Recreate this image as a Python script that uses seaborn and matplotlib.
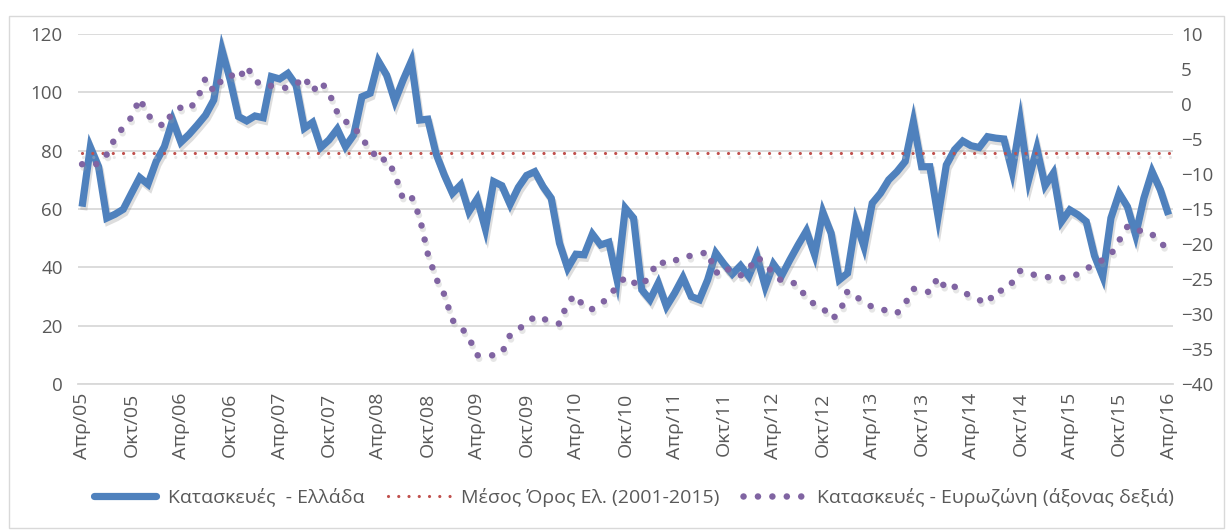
import numpy as np
import pandas as pd
import matplotlib
matplotlib.use("Agg")
import matplotlib.pyplot as plt
import matplotlib.patheffects as pe
from matplotlib.lines import Line2D
from matplotlib.patches import Rectangle
import seaborn as sns

# ---------------- data ----------------
tick_labels = ["Απρ/05", "Οκτ/05", "Απρ/06", "Οκτ/06", "Απρ/07", "Οκτ/07",
               "Απρ/08", "Οκτ/08", "Απρ/09", "Οκτ/09", "Απρ/10", "Οκτ/10",
               "Απρ/11", "Οκτ/11", "Απρ/12", "Οκτ/12", "Απρ/13", "Οκτ/13",
               "Απρ/14", "Οκτ/14", "Απρ/15", "Οκτ/15", "Απρ/16"]

# Construction confidence - Greece (left axis), monthly Apr/05 .. Apr/16
greece = [60.8, 81.2, 74.5, 56.9, 58.2, 59.9, 65.4, 70.8, 68.5, 76.3,
          81.4, 90.5, 82.9, 85.6, 88.8, 92.2, 97.4, 114.5, 104.2, 91.7,
          90.2, 91.9, 91.3, 105.4, 104.6, 106.5, 102.5, 87.7, 89.7, 81.1,
          83.7, 87.4, 81.4, 85.4, 98.5, 99.7, 110.7, 105.9, 97.0, 104.2,
          110.7, 90.5, 90.8, 79.0, 71.7, 65.4, 68.3, 59.1, 63.5, 53.2,
          69.4, 68.0, 61.6, 67.4, 71.5, 72.8, 67.7, 63.7, 48.3, 39.7,
          44.5, 44.3, 51.4, 47.7, 48.6, 35.7, 60.3, 56.9, 32.3, 28.9,
          34.6, 26.6, 31.2, 36.5, 30.0, 28.9, 35.7, 44.9, 41.1, 37.7,
          40.6, 36.9, 43.7, 33.4, 41.1, 37.2, 42.6, 47.7, 52.5, 44.3,
          58.9, 51.7, 35.7, 38.0, 55.7, 47.1, 62.0, 65.4, 70.0, 72.8,
          76.3, 90.0, 74.5, 74.5, 57.4, 75.1, 80.3, 83.3, 81.7, 81.1,
          84.8, 84.3, 84.0, 72.8, 90.0, 70.0, 80.8, 68.0, 72.3, 55.7,
          59.7, 58.0, 55.7, 44.0, 36.9, 56.9, 65.4, 60.8, 51.1, 63.7,
          72.8, 66.6, 58.0]

# Construction confidence - Eurozone (right axis)
eurozone = [-8.6, -8.8, -8.5, -7.2, -4.9, -3.3, -1.9, 0.8, -1.6, -2.6,
            -3.2, -1.1, -0.5, -0.8, 0.7, 3.7, 1.8, 3.5, 4.2, 3.5,
            5.4, 3.4, 2.5, 2.6, 2.35, 2.3, 2.8, 3.9, 1.8, 3.2,
            1.6, -1.2, -2.5, -3.1, -5.1, -6.2, -8.2, -7.8, -10.0, -13.6,
            -13.2, -16.1, -21.4, -24.9, -27.2, -30.9, -31.8, -33.4, -35.9, -35.9,
            -35.9, -35.6, -33.0, -32.1, -31.5, -30.3, -30.7, -31.0, -31.4, -28.3,
            -27.3, -29.1, -29.3, -28.7, -27.4, -26.1, -24.7, -25.5, -26.0, -24.4,
            -22.4, -22.9, -22.4, -21.75, -21.7, -21.5, -21.1, -24.2, -23.2, -24.1,
            -24.5, -23.6, -21.8, -22.9, -24.2, -25.3, -25.4, -25.8, -27.8, -28.6,
            -29.1, -30.7, -30.0, -26.7, -27.5, -28.3, -29.0, -29.2, -29.7, -29.9,
            -28.5, -26.4, -26.6, -26.9, -24.7, -26.5, -26.1, -26.9, -27.4, -28.0,
            -28.5, -26.6, -26.7, -25.5, -23.8, -24.2, -24.5, -24.7, -24.8, -24.85,
            -24.7, -24.3, -23.6, -22.8, -22.3, -21.5, -19.5, -17.5, -18.2, -18.0,
            -18.6, -19.9, -20.6]

avg_greece = 79.1  # Μέσος Όρος Ελ. (2001-2015)

series_names = ["Κατασκευές  - Ελλάδα",
                "Μέσος Όρος Ελ. (2001-2015)",
                "Κατασκευές - Ευρωζώνη (άξονας δεξιά)"]

# ---------------- style ----------------
BLUE = "#4F81BD"
RED = "#C0504D"
PURPLE = "#8064A2"
TXT = "#595959"
GRID = "#D9D9D9"

sns.set_theme(style="white")
plt.rcParams["font.family"] = ["Open Sans", "DejaVu Sans"]
FS_Y = 13.5
FS_X = 14
FS_L = 14

n = len(greece)
df = pd.DataFrame({
    "idx": np.arange(n),
    "greece": greece,
    "avg": [avg_greece] * n,
    "eurozone": eurozone,
})

fig = plt.figure(figsize=(12.26, 5.30), dpi=100)
fig.add_artist(Rectangle((0.0073, 0.004), 0.991, 0.966, transform=fig.transFigure,
                         fill=False, edgecolor=GRID, lw=1.0))

ax = fig.add_axes([0.0636, 0.2755, 0.8929, 0.6603])
ax2 = ax.twinx()

RED_DASH = (0, (0.01, 3.2))
PUR_DASH = (0, (0.01, 2.2))

sns.lineplot(data=df, x="idx", y="greece", ax=ax, color=BLUE, lw=5.2,
             legend=False, solid_joinstyle="miter", solid_capstyle="butt")
sns.lineplot(data=df, x="idx", y="avg", ax=ax, color=RED, lw=2.3, legend=False)
sns.lineplot(data=df, x="idx", y="eurozone", ax=ax2, color=PURPLE, lw=4.7, legend=False)

l_blue, l_red = ax.get_lines()[0], ax.get_lines()[1]
l_purple = ax2.get_lines()[0]
l_blue.set_path_effects([pe.SimpleLineShadow(offset=(1.2, -2.5), shadow_color="#8F8F8F", alpha=0.3),
                         pe.Normal()])
l_red.set_linestyle(RED_DASH)
l_red.set_dash_capstyle("round")
l_red.set_path_effects([pe.SimpleLineShadow(offset=(0.8, -3.0), shadow_color="#BFBFBF", alpha=0.35),
                        pe.Normal()])
l_purple.set_linestyle(PUR_DASH)
l_purple.set_dash_capstyle("round")
l_purple.set_path_effects([pe.SimpleLineShadow(offset=(1.0, -2.5), shadow_color="#9F9F9F", alpha=0.25),
                           pe.Normal()])

# axes limits / ticks
ax.set_xlim(-0.5, n - 0.5)
ax.set_ylim(0, 120)
ax2.set_ylim(-40, 10)
ax.set_yticks(np.arange(0, 121, 20))
ax2.set_yticks(np.arange(-40, 11, 5))

ax.set_xticks(np.arange(-0.5, n - 1, 6))
ax.set_xticklabels([])
ax.set_xticks(np.arange(0, n, 6), minor=True)
ax.set_xticklabels(tick_labels, minor=True, rotation=90)

ax.tick_params(axis="x", which="major", length=6, width=1.2, color=GRID, direction="out")
ax.tick_params(axis="x", which="minor", length=0, pad=6, labelsize=FS_X, labelcolor=TXT)
ax.tick_params(axis="y", length=0, pad=11, labelsize=FS_Y, labelcolor=TXT)
ax2.tick_params(axis="y", length=0, pad=6, labelsize=FS_Y, labelcolor=TXT)

ax.yaxis.grid(True, color=GRID, lw=1.3)
ax.set_axisbelow(True)
for a in (ax, ax2):
    for s in a.spines.values():
        s.set_visible(False)
    a.set_xlabel("")
    a.set_ylabel("")
ax.spines["bottom"].set_visible(True)
ax.spines["bottom"].set_color(GRID)
ax.spines["bottom"].set_linewidth(1.3)

# legend
handles = [
    Line2D([], [], color=BLUE, lw=5.2, solid_capstyle="round"),
    Line2D([], [], color=RED, lw=2.3, linestyle=RED_DASH, dash_capstyle="round"),
    Line2D([], [], color=PURPLE, lw=4.7, linestyle=PUR_DASH, dash_capstyle="round"),
]
fig.legend(handles, series_names, loc="center", bbox_to_anchor=(0.517, 0.062), ncol=3,
           frameon=False, fontsize=FS_L, labelcolor=TXT, handlelength=3.2,
           columnspacing=1.2, handletextpad=0.6)

fig.savefig("out.png", dpi=100)
